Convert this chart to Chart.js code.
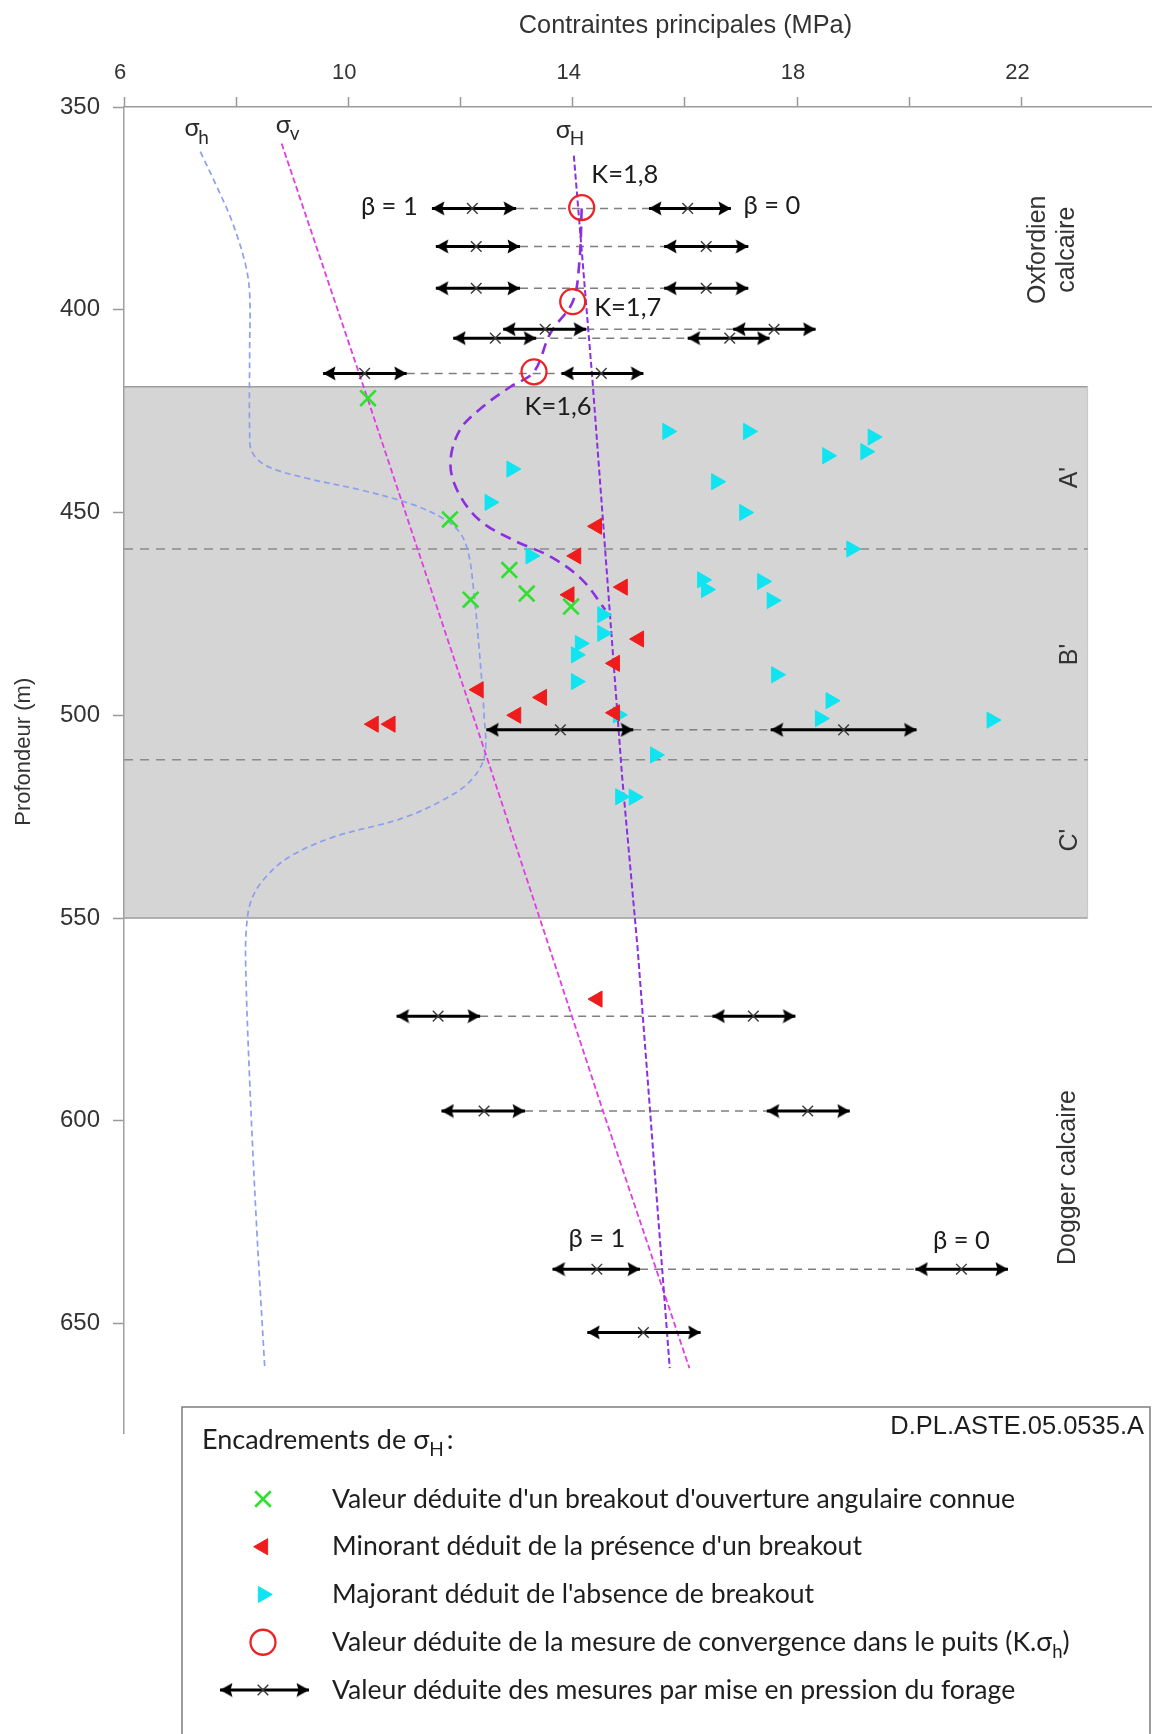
<!DOCTYPE html>
<html lang="fr">
<head>
<meta charset="utf-8">
<title>Contraintes principales</title>
<script src="https://cdn.jsdelivr.net/npm/chart.js@4.4.1/dist/chart.umd.min.js"></script>
<style>
  html, body { margin: 0; padding: 0; background: #fff; overflow: hidden; }
  #wrap { position: relative; width: 1153px; height: 1734px; }
</style>
</head>
<body>
<div id="wrap"><canvas id="chart"></canvas></div>
<script>
// All values: stress in MPa, depth in m

// sigma h profile
const shStress = [7.36, 7.65, 7.92, 8.16, 8.24, 8.24, 8.24, 8.28, 8.54, 9.24, 10.24, 11.14, 11.69, 11.99, 12.14, 12.24, 12.34, 12.42, 12.43, 12.19, 11.74, 10.94, 9.74, 8.94, 8.49, 8.26, 8.18, 8.17, 8.24, 8.36, 8.51];
const shDepth  = [361, 369.5, 378, 388.5, 396, 410, 430, 435, 438.5, 441.5, 444.5, 448, 451.5, 455, 460, 470, 485, 500, 510, 516, 520.5, 525.5, 530, 535, 540.5, 546, 553, 562, 590, 625, 661];

// sigma v profile
const svStress = [8.81, 10.34, 12.46, 14.55, 16.08];
const svDepth  = [359, 421.8, 510, 598, 661];

// sigma H profile
const sHStress = [14.02, 14.35, 14.88, 15.16, 15.73];
const sHDepth  = [362, 417, 515, 558, 661];

// K.sigma_h curve and convergence values
const kStress = [14.16, 14.12, 14.00, 13.60, 13.31, 12.89, 12.39, 11.99, 11.82, 11.94, 12.33, 12.94, 13.62, 14.17, 14.58];
const kDepth  = [375, 388, 398, 405.8, 415.3, 419, 424, 429.6, 437.5, 444.5, 451.8, 456.8, 461, 466.6, 474];
const convStress = [14.16, 14.00, 13.31];
const convDepth  = [374.8, 398, 415.3];
const convLabels = ['K=1,8', 'K=1,7', 'K=1,6'];

// breakout with known angular opening
const greenStress = [10.35, 11.81, 12.87, 13.18, 12.18, 13.97];
const greenDepth  = [421.8, 451.7, 464.2, 470.0, 471.5, 473.2];

// lower bounds (breakout present)
const redStress = [14.43, 14.06, 14.89, 13.94, 15.18, 14.75, 12.32, 13.45, 12.99, 14.75, 10.45, 10.75, 14.44];
const redDepth  = [453.4, 460.7, 468.4, 470.3, 481.2, 487.2, 493.7, 495.6, 500.0, 499.4, 502.2, 502.2, 570.0];

// upper bounds (no breakout)
const cyanStress = [15.69, 17.13, 19.35, 18.54, 19.22, 12.91, 16.56, 12.52, 17.06, 18.97, 13.25, 16.31, 16.38, 17.38, 17.55, 14.53, 14.53, 14.13, 14.06, 14.06, 17.63, 18.60, 18.41, 21.47, 14.81, 15.47, 14.85, 15.09];
const cyanDepth  = [430.0, 430.0, 431.4, 436.0, 435.0, 439.3, 442.4, 447.5, 450.0, 459.0, 460.7, 466.6, 469.0, 467.0, 471.7, 475.2, 479.8, 482.3, 485.1, 491.7, 490.0, 496.4, 500.8, 501.2, 499.9, 509.8, 520.1, 520.2];

// hydraulic tests: beta = 1 bar and beta = 0 bar at each depth
const testDepth = [375, 384.4, 394.7, 404.8, 407, 415.7, 503.6, 574.2, 597.6, 636.6, 652.2];
const b1Min = [11.49, 11.56, 11.56, 12.76, 11.87, 9.55, 12.46, 10.86, 11.66, 13.64, 14.26];
const b1Val = [12.21, 12.28, 12.28, 13.51, 12.62, 10.29, 13.78, 11.60, 12.42, 14.43, 15.26];
const b1Max = [12.99, 13.06, 13.06, 14.24, 13.35, 11.04, 15.08, 12.35, 13.15, 15.20, 16.28];
const b0Min = [15.36, 15.63, 15.63, 16.86, 16.05, 13.80, 17.53, 16.49, 17.46, 20.11, null];
const b0Val = [16.05, 16.38, 16.38, 17.59, 16.80, 14.51, 18.83, 17.22, 18.19, 20.93, null];
const b0Max = [16.82, 17.13, 17.13, 18.33, 17.51, 15.26, 20.13, 17.97, 18.94, 21.76, null];

// geological units
const bandTop = 419, bandBottom = 550, bandRight = 23.18;
const unitBounds = [459, 511];

// x axis ticks
const xTickValues = [6, 8, 10, 12, 14, 16, 18, 20, 22];
const xTickLabels = ['6', '', '10', '', '14', '', '18', '', '22'];

// text placed in data space
const notes = [
  { t: 'β = 1', x: 10.73, y: 374.5 },
  { t: 'β = 0', x: 17.55, y: 374.3 },
  { t: 'β = 1', x: 14.43, y: 629 },
  { t: 'β = 0', x: 20.93, y: 629.5 },
  { t: convLabels[0], x: 14.93, y: 366.6 },
  { t: convLabels[1], x: 14.98, y: 399.6 },
  { t: convLabels[2], x: 13.74, y: 423.9 },
];
const sigmaNotes = [
  { sub: 'h', x: 7.21, y: 355.2 },
  { sub: 'v', x: 8.84, y: 354.4 },
  { sub: 'H', x: 13.83, y: 355.6 },
];
const unitNotes = [
  { lines: ['Oxfordien', 'calcaire'], x: 22.55, y: 385.2 },
  { lines: ["A'"], x: 22.87, y: 441.4 },
  { lines: ["B'"], x: 22.87, y: 485 },
  { lines: ["C'"], x: 22.87, y: 530.8 },
  { lines: ['Dogger calcaire'], x: 22.83, y: 614 },
];

const legendRows = [
  { mark: 'green', text: "Valeur déduite d'un breakout d'ouverture angulaire connue" },
  { mark: 'red', text: "Minorant déduit de la présence d'un breakout" },
  { mark: 'cyan', text: "Majorant déduit de l'absence de breakout" },
  { mark: 'conv', text: 'Valeur déduite de la mesure de convergence dans le puits (K.σ', sub: 'h', after: ')' },
  { mark: 'test', text: 'Valeur déduite des mesures par mise en pression du forage' },
];

// ---------------------------------------------------------------------------

const AXIS_FONT = '"Liberation Sans", Arial, sans-serif';
const NOTE_FONT = 'Lato, "Noto Sans", sans-serif';
Chart.defaults.font.family = AXIS_FONT;
Chart.defaults.color = '#333';

const pts = (xs, ys) => xs.map((x, i) => ({ x, y: ys[i] }));

// marker styles shared by chart and legend
const marks = {
  green: { pointStyle: 'crossRot', radius: 11, borderWidth: 2.7, rotation: 0, fill: '#2fe02f', stroke: '#2fe02f' },
  red:   { pointStyle: 'triangle', radius: 9.3, borderWidth: 1, rotation: -90, fill: '#ee1c1c', stroke: '#ee1c1c' },
  cyan:  { pointStyle: 'triangle', radius: 9.3, borderWidth: 1, rotation: 90, fill: '#10e4f0', stroke: '#10e4f0' },
  conv:  { pointStyle: 'circle', radius: 12.5, borderWidth: 2.3, rotation: 0, fill: 'rgba(0,0,0,0)', stroke: '#ec2226' },
  xmark: { pointStyle: 'crossRot', radius: 7.5, borderWidth: 1.4, rotation: 0, fill: '#3a3a3a', stroke: '#3a3a3a' },
};

// arrow head, tip at the image centre, pointing right
const headImg = document.createElement('canvas');
headImg.width = 26; headImg.height = 15;
(() => {
  const c = headImg.getContext('2d');
  c.fillStyle = '#000';
  c.beginPath();
  c.moveTo(13, 7.5); c.lineTo(0.5, 0.5); c.lineTo(2.5, 7.5); c.lineTo(0.5, 14.5);
  c.closePath(); c.fill();
})();

// build the hydraulic test segments
const shaftPts = [], joinPts = [], headPts = [], headRot = [], centrePts = [];
testDepth.forEach((d, i) => {
  const bars = [[b1Min[i], b1Val[i], b1Max[i]]];
  if (b0Val[i] !== null) bars.push([b0Min[i], b0Val[i], b0Max[i]]);
  bars.forEach(([lo, mid, hi]) => {
    shaftPts.push({ x: lo, y: d }, { x: hi, y: d }, { x: null, y: null });
    headPts.push({ x: lo, y: d }, { x: hi, y: d });
    headRot.push(180, 0);
    centrePts.push({ x: mid, y: d });
  });
  if (b0Val[i] !== null) joinPts.push({ x: b1Max[i], y: d }, { x: b0Min[i], y: d }, { x: null, y: null });
});

const curve = (data, color, width, dash, order, tension) => ({
  data, showLine: true, borderColor: color, borderWidth: width, borderDash: dash,
  pointRadius: 0, pointHoverRadius: 0, tension: tension || 0, order,
});
const scatter = (data, m, order) => ({
  data, showLine: false, order,
  pointStyle: m.pointStyle, pointRadius: m.radius, pointHoverRadius: m.radius,
  pointRotation: m.rotation, pointBorderWidth: m.borderWidth,
  pointBackgroundColor: m.fill, pointBorderColor: m.stroke,
});

// grey band, unit boundaries
const bandPlugin = {
  id: 'band',
  beforeDraw(chart) {
    const { ctx, scales: { x, y } } = chart;
    const x0 = x.getPixelForValue(x.min), x1 = x.getPixelForValue(bandRight);
    const y0 = y.getPixelForValue(bandTop), y1 = y.getPixelForValue(bandBottom);
    ctx.save();
    ctx.fillStyle = '#d5d5d5';
    ctx.fillRect(x0, y0, x1 - x0, y1 - y0);
    ctx.strokeStyle = '#9d9d9d';
    ctx.lineWidth = 1.5;
    ctx.beginPath();
    ctx.moveTo(x0, y0); ctx.lineTo(x1, y0);
    ctx.moveTo(x0, y1); ctx.lineTo(x1, y1);
    ctx.stroke();
    ctx.strokeStyle = '#c4c4c4';
    ctx.lineWidth = 1;
    ctx.beginPath(); ctx.moveTo(x1, y0); ctx.lineTo(x1, y1); ctx.stroke();
    ctx.strokeStyle = '#8a8a8a';
    ctx.lineWidth = 1.5;
    ctx.setLineDash([9, 7]);
    unitBounds.forEach(d => {
      const py = y.getPixelForValue(d);
      ctx.beginPath(); ctx.moveTo(x0, py); ctx.lineTo(x1, py); ctx.stroke();
    });
    ctx.restore();
  }
};

const drawSigma = (ctx, x, y, sub, size) => {
  ctx.font = `${size}px ${NOTE_FONT}`;
  ctx.textAlign = 'center';
  ctx.textBaseline = 'middle';
  ctx.fillText('σ', x, y);
  const w = ctx.measureText('σ').width;
  ctx.font = `${Math.round(size * 0.75)}px ${NOTE_FONT}`;
  ctx.textAlign = 'left';
  ctx.fillText(sub, x + w / 2 - 1, y + size * 0.38);
};

// annotations and axis titles
const notesPlugin = {
  id: 'notes',
  afterDraw(chart) {
    const { ctx, scales: { x, y } } = chart;
    ctx.save();
    ctx.fillStyle = '#1c1c1c';
    ctx.textAlign = 'center';
    ctx.textBaseline = 'middle';
    ctx.font = `25.5px ${NOTE_FONT}`;
    notes.forEach(n => ctx.fillText(n.t, x.getPixelForValue(n.x), y.getPixelForValue(n.y)));
    ctx.fillStyle = '#2a2a2a';
    sigmaNotes.forEach(n => drawSigma(ctx, x.getPixelForValue(n.x), y.getPixelForValue(n.y), n.sub, 25));

    ctx.fillStyle = '#333';
    ctx.font = `25px ${AXIS_FONT}`;
    unitNotes.forEach(n => {
      ctx.save();
      ctx.translate(x.getPixelForValue(n.x), y.getPixelForValue(n.y));
      ctx.rotate(-Math.PI / 2);
      ctx.textAlign = 'center';
      ctx.textBaseline = 'middle';
      const off = (n.lines.length - 1) * 14.5;
      n.lines.forEach((l, i) => ctx.fillText(l, 0, -off + i * 29));
      ctx.restore();
    });

    // axis titles
    ctx.font = `25.3px ${AXIS_FONT}`;
    ctx.fillStyle = '#333';
    ctx.textAlign = 'center';
    ctx.fillText('Contraintes principales (MPa)', x.getPixelForValue(16.01), 26);
    ctx.save();
    ctx.translate(24, y.getPixelForValue(509));
    ctx.rotate(-Math.PI / 2);
    ctx.font = `22px ${AXIS_FONT}`;
    ctx.fillText('Profondeur (m)', 0, 0);
    ctx.restore();
    ctx.restore();
  }
};

const drawMark = (ctx, m, px, py) => {
  ctx.save();
  ctx.fillStyle = m.fill;
  ctx.strokeStyle = m.stroke;
  ctx.lineWidth = m.borderWidth;
  Chart.helpers.drawPoint(ctx, { pointStyle: m.pointStyle, rotation: m.rotation, radius: m.radius, borderWidth: m.borderWidth }, px, py);
  ctx.restore();
};

// legend box at the bottom
const legendPlugin = {
  id: 'boxLegend',
  afterDraw(chart) {
    const { ctx } = chart;
    const left = 182, top = 1407, right = 1150;
    ctx.save();
    ctx.strokeStyle = '#7d7d7d';
    ctx.lineWidth = 1.5;
    ctx.strokeRect(left, top, right - left, 400);

    ctx.fillStyle = '#1e1e1e';
    ctx.textBaseline = 'middle';
    ctx.textAlign = 'right';
    ctx.font = `25.5px ${AXIS_FONT}`;
    ctx.fillText('D.PL.ASTE.05.0535.A', 1144, 1427);

    ctx.textAlign = 'left';
    ctx.font = `27px ${NOTE_FONT}`;
    let tx = 202;
    ctx.fillText('Encadrements de σ', tx, 1440);
    tx += ctx.measureText('Encadrements de σ').width;
    ctx.font = `19px ${NOTE_FONT}`;
    ctx.fillText('H', tx, 1450);
    tx += ctx.measureText('H').width + 3;
    ctx.font = `27px ${NOTE_FONT}`;
    ctx.fillText(':', tx, 1440);

    legendRows.forEach((r, i) => {
      const ry = 1499 + i * 47.75;
      const mx = 263;
      if (r.mark === 'test') {
        ctx.save();
        ctx.strokeStyle = '#000';
        ctx.lineWidth = 3;
        ctx.beginPath(); ctx.moveTo(220, ry); ctx.lineTo(309, ry); ctx.stroke();
        ctx.drawImage(headImg, 309 - 13, ry - 7.5);
        ctx.translate(220, ry); ctx.rotate(Math.PI);
        ctx.drawImage(headImg, -13, -7.5);
        ctx.restore();
        drawMark(ctx, marks.xmark, mx, ry);
      } else {
        drawMark(ctx, marks[r.mark], mx, ry);
      }
      ctx.fillStyle = '#1e1e1e';
      ctx.font = `26.6px ${NOTE_FONT}`;
      ctx.fillText(r.text, 332, ry);
      if (r.sub) {
        let sx = 332 + ctx.measureText(r.text).width;
        ctx.font = `18.5px ${NOTE_FONT}`;
        ctx.fillText(r.sub, sx, ry + 10);
        sx += ctx.measureText(r.sub).width;
        ctx.font = `26.6px ${NOTE_FONT}`;
        ctx.fillText(r.after, sx, ry);
      }
    });
    ctx.restore();
  }
};

const chart = new Chart(document.getElementById('chart'), {
  type: 'scatter',
  data: {
    datasets: [
      scatter(pts(convStress, convDepth), marks.conv, 0),
      scatter(pts(greenStress, greenDepth), marks.green, 1),
      scatter(pts(redStress, redDepth), marks.red, 1),
      scatter(pts(cyanStress, cyanDepth), marks.cyan, 2),
      {
        data: headPts, showLine: false, order: 3,
        pointStyle: headImg, pointRadius: 6, pointHoverRadius: 6, pointRotation: headRot,
      },
      scatter(centrePts, marks.xmark, 3),
      curve(shaftPts, '#000', 3, [], 4),
      curve(pts(kStress, kDepth), '#8b2fe0', 2.6, [11, 7], 5, 0.35),
      curve(pts(sHStress, sHDepth), '#8b2fe0', 2, [6, 3], 5),
      curve(pts(svStress, svDepth), '#e43ce4', 1.8, [6, 3], 6),
      curve(pts(shStress, shDepth), '#8c9ff0', 1.7, [6, 4], 6, 0.35),
      curve(joinPts, '#7f7f7f', 1.5, [8, 6], 7),
    ]
  },
  options: {
    responsive: true,
    maintainAspectRatio: false,
    animation: false,
    events: [],
    // point radii must not push the plot area in from the edges
    layout: { autoPadding: false, padding: { top: 0, left: 0, right: 2, bottom: 301 } },
    plugins: { legend: { display: false }, tooltip: { enabled: false } },
    scales: {
      x: {
        type: 'linear', position: 'top', min: 6, max: 24.31,
        border: { color: '#9a9a9a', width: 1.5 },
        grid: { drawOnChartArea: false, tickLength: 10, tickWidth: 1.5, tickColor: '#9a9a9a' },
        afterBuildTicks: s => { s.ticks = xTickValues.map(value => ({ value })); },
        ticks: {
          autoSkip: false, maxRotation: 0, padding: 11, labelOffset: -4,
          font: { size: 22 }, color: '#333',
          callback: (v, i) => xTickLabels[i],
        },
        afterFit: s => { s.height = 107; },
      },
      y: {
        type: 'linear', reverse: true, min: 350, max: 677,
        border: { color: '#a0a0a0', width: 1.5 },
        grid: { drawOnChartArea: false, tickLength: 11, tickWidth: 1.5, tickColor: '#9a9a9a' },
        ticks: { stepSize: 50, includeBounds: false, autoSkip: false, padding: 13, font: { size: 24 }, color: '#333' },
        afterFit: s => { s.width = 124; },
      },
    },
  },
  plugins: [bandPlugin, notesPlugin, legendPlugin],
});
</script>
</body>
</html>
